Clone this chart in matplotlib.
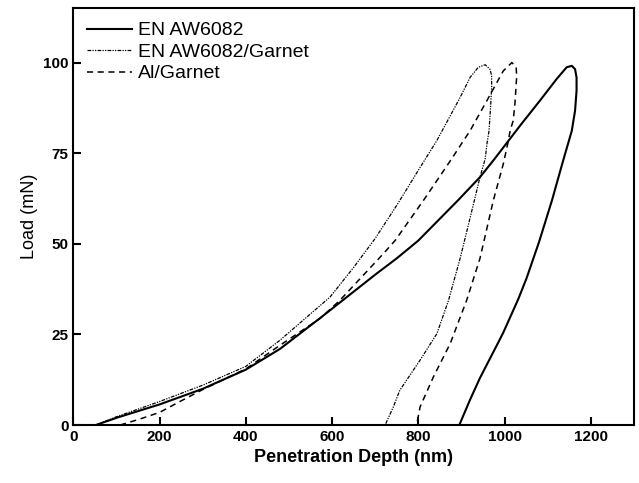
import matplotlib
matplotlib.use('Agg')
import matplotlib.pyplot as plt

plt.rcParams['font.family'] = ['Liberation Sans', 'DejaVu Sans']

# EN AW6082 (loading then unloading)
aw_x = [52, 100, 200, 300, 400, 479, 572, 634, 700, 750, 800, 892, 943, 974, 1036, 1082,
        1121, 1144, 1156, 1163.5, 1167, 1167, 1163.5, 1156, 1136, 1110, 1080, 1051, 1032,
        997, 982, 943, 920, 895]
aw_y = [0, 2, 5.7, 10, 15.3, 21, 29.5, 35.3, 41.5, 46, 50.9, 62, 68.4, 73, 82.6, 89.5,
        95.5, 98.7, 99.1, 98.2, 95.9, 92.2, 86.7, 81.2, 73, 62, 50.5, 40.5, 34.8,
        25.5, 22, 13, 7, 0]

# EN AW6082/Garnet
awg_x = [52, 100, 200, 300, 400, 479, 595, 650, 700, 752, 800, 843, 897, 920, 939,
         955, 966, 970, 970, 968, 964, 959, 955, 943, 930, 897, 870, 843, 804, 757, 742, 723]
awg_y = [0, 2.3, 6.5, 11, 16.2, 23.4, 35.3, 43.5, 51.5, 61, 70.3, 78.5, 90.4, 95.9, 98.7,
         99.4, 98.2, 96.4, 93.1, 88.6, 81.2, 77.5, 73.4, 68.4, 62, 46, 34.4, 25.2, 17.9, 9.6, 5, 0]

# Al/Garnet
alg_x = [108, 150, 200, 247, 300, 400, 479, 572, 618, 719, 746, 812, 877, 905, 920, 959,
         997, 1017, 1027, 1028, 1024, 1020, 1013, 1008, 997, 974, 943, 912, 874, 835,
         804, 796]
alg_y = [0, 1.5, 3.5, 6.5, 9.8, 15.5, 22, 29.4, 34.4, 47.3, 50.9, 62, 73.4, 78.5, 81.2, 89.5,
         97.7, 100, 98.7, 95.9, 88.6, 84, 81.2, 78, 72, 62, 46, 34.4, 22.5, 13.3,
         5, 0]

fig = plt.figure(figsize=(6.39, 4.83), dpi=100)
ax = fig.add_axes([0.115, 0.12, 0.877, 0.863])

ax.plot(aw_x, aw_y, color='black', lw=1.5, ls='-', label='EN AW6082')
ax.plot(awg_x, awg_y, color='black', lw=0.9, ls=(0, (3, 1, 1, 1, 1, 1)), label='EN AW6082/Garnet')
ax.plot(alg_x, alg_y, color='black', lw=1.1, ls=(0, (4, 3)), label='Al/Garnet')

ax.set_xlim(0, 1300)
ax.set_ylim(0, 115)
ax.set_xticks([0, 200, 400, 600, 800, 1000, 1200])
ax.set_yticks([0, 25, 50, 75, 100])
ax.tick_params(direction='in', length=6, width=1.5, labelsize=11, top=False, right=False)
for lab in ax.get_xticklabels() + ax.get_yticklabels():
    lab.set_fontweight('bold')
for sp in ax.spines.values():
    sp.set_linewidth(1.5)

ax.set_xlabel('Penetration Depth (nm)', fontsize=13, fontweight='bold')
ax.set_ylabel('Load (mN)', fontsize=13)

ax.legend(loc='upper left', frameon=False, fontsize=14, handlelength=2.3,
          handletextpad=0.3, labelspacing=0.2, borderaxespad=0.3)

fig.savefig('out.png', dpi=100)
